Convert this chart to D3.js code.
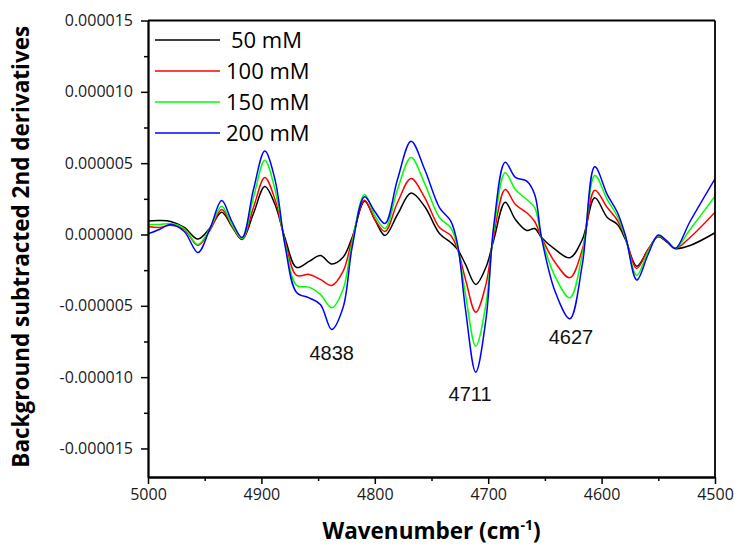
<!DOCTYPE html>
<html>
<head>
<meta charset="utf-8">
<script src="https://cdn.jsdelivr.net/npm/d3@7"></script>
<style>
  html, body { margin: 0; padding: 0; background: #fff; }
  svg { display: block; }
</style>
</head>
<body>
<svg id="chart" width="740" height="549"></svg>
<script>
// ---- Data (values in units of 1e-6) ----
const waves = [5000, 4990, 4980, 4968, 4956, 4945, 4935, 4926, 4917, 4907, 4897, 4888, 4879, 4869, 4858, 4848, 4838, 4828, 4820, 4809, 4800, 4791, 4780, 4768, 4756, 4743, 4733, 4727, 4720, 4711, 4702, 4695, 4685, 4676, 4666, 4659, 4653, 4641, 4628, 4617, 4606, 4595, 4586, 4579, 4569, 4559, 4550, 4542, 4535, 4522, 4500];

const s50  = [0.95, 0.98, 0.91, 0.49, -0.32, 0.49, 1.56, 0.56, -0.35, 1.47, 3.36, 2.1, -0.3, -2.31, -1.89, -1.47, -2.07, -1.6, -0.21, 2.33, 1.05, -0.07, 1.4, 2.9, 1.96, 0.07, -0.56, -1.05, -2.1, -3.5, -2.3, -0.35, 2.26, 1.05, 0.28, 0.42, -0.21, -1.05, -1.63, -0.35, 2.57, 1.19, 0.7, -0.35, -2.22, -1.05, -0.16, -0.56, -0.98, -0.77, 0.12];
const s100 = [0.56, 0.49, 0.65, 0.35, -0.77, 0.35, 1.75, 0.63, -0.32, 1.89, 4.0, 2.45, -0.5, -2.87, -2.8, -3.15, -3.57, -2.59, -0.35, 2.4, 1.05, 0.21, 2.24, 3.92, 2.59, 0.49, -0.07, -1.05, -3.15, -5.45, -3.5, 0.0, 3.15, 2.1, 1.52, 0.91, -0.21, -1.96, -3.03, -1.05, 3.1, 1.89, 0.98, -0.21, -2.38, -1.05, -0.14, -0.49, -0.98, -0.21, 1.56];
const s150 = [0.7, 0.7, 0.77, 0.42, -0.7, 0.49, 1.98, 0.7, -0.28, 2.59, 5.21, 3.15, -0.7, -3.57, -3.69, -4.2, -5.14, -3.85, -0.56, 2.8, 1.33, 0.42, 3.15, 5.4, 3.57, 1.19, 0.47, -0.91, -4.2, -7.83, -4.9, 0.35, 4.32, 3.15, 2.45, 1.89, -0.21, -2.95, -4.44, -1.4, 4.13, 2.45, 1.26, -0.21, -2.87, -1.19, -0.1, -0.49, -0.98, 0.35, 2.68];
const s200 = [0.04, 0.35, 0.7, 0.21, -1.26, 0.49, 2.38, 0.91, -0.21, 3.15, 5.85, 3.85, -0.85, -4.06, -4.44, -4.9, -6.66, -5.12, -0.91, 2.64, 1.61, 0.77, 3.85, 6.54, 4.55, 1.89, 0.93, -0.7, -5.26, -9.65, -5.96, 0.7, 5.07, 4.0, 3.74, 2.8, -0.21, -4.0, -5.91, -2.1, 4.74, 2.8, 1.54, -0.07, -3.19, -1.4, -0.04, -0.49, -0.98, 0.91, 3.9];

const seriesNames = ["50 mM", "100 mM", "150 mM", "200 mM"];
const seriesColors = ["#000000", "#ff0000", "#00ff00", "#0000ff"];
const seriesValues = [s50, s100, s150, s200];
const unit = 1e-6;

const xTicks = [5000, 4900, 4800, 4700, 4600, 4500];
const xMinorTicks = [4950, 4850, 4750, 4650, 4550];
const yTicks = [-0.000015, -0.00001, -0.000005, 0, 0.000005, 0.00001, 0.000015];
const yMinorTicks = [-0.0000125, -0.0000075, -0.0000025, 0.0000025, 0.0000075, 0.0000125];

const peakLabels = ["4838", "4711", "4627"];
const peakLabelWaves = [4838, 4716, 4627];
const peakLabelValues = [-0.0000084, -0.0000113, -0.0000073];

// ---- Layout ----
const L = 148, R = 715, T = 20.5, B = 477;
const svg = d3.select("#chart");

const x = d3.scaleLinear().domain([5000, 4500]).range([L, R]);
const y = d3.scaleLinear().domain([-0.000017, 0.000015]).range([B, T]);

const fmt = v => (v < 0 ? "-" : "") + Math.abs(v).toFixed(6);

// Curves
const line = d3.line()
  .x(d => x(d[0]))
  .y(d => y(d[1]))
  .curve(d3.curveCatmullRom.alpha(0.5));

svg.append("clipPath").attr("id", "clip")
  .append("rect").attr("x", L).attr("y", T).attr("width", R - L).attr("height", B - T);

const plot = svg.append("g").attr("clip-path", "url(#clip)");
seriesValues.forEach((vals, i) => {
  const pts = waves.map((w, j) => [w, vals[j] * unit]);
  plot.append("path")
    .attr("d", line(pts))
    .attr("fill", "none")
    .attr("stroke", seriesColors[i])
    .attr("stroke-width", 1.5)
    .attr("stroke-linejoin", "round");
});

// Axes
const tickFont = "'Open Sans', sans-serif";
const xAxis = svg.append("g").attr("transform", `translate(0,${B})`)
  .call(d3.axisBottom(x).tickValues(xTicks).tickSize(7).tickSizeOuter(0).tickPadding(5).tickFormat(d3.format("d")));
const xMinor = svg.append("g").attr("transform", `translate(0,${B})`)
  .call(d3.axisBottom(x).tickValues(xMinorTicks).tickSize(4).tickSizeOuter(0).tickFormat(""));
const yAxis = svg.append("g").attr("transform", `translate(${L},0)`)
  .call(d3.axisLeft(y).tickValues(yTicks).tickSize(7).tickSizeOuter(0).tickPadding(8).tickFormat(fmt));
const yMinor = svg.append("g").attr("transform", `translate(${L},0)`)
  .call(d3.axisLeft(y).tickValues(yMinorTicks).tickSize(4).tickSizeOuter(0).tickFormat(""));

[xAxis, xMinor, yAxis, yMinor].forEach(g => {
  g.select(".domain").attr("stroke", "#000").attr("stroke-width", 1.8);
  g.selectAll(".tick line").attr("stroke", "#000").attr("stroke-width", 1.5);
  g.selectAll(".tick text").attr("fill", "#1a1a1a").style("font-family", tickFont).style("font-size", "16px");
});

// Frame top and right
svg.append("line").attr("x1", L).attr("x2", R).attr("y1", T).attr("y2", T).attr("stroke", "#000").attr("stroke-width", 1.8);
svg.append("line").attr("x1", R).attr("x2", R).attr("y1", T).attr("y2", B).attr("stroke", "#000").attr("stroke-width", 1.8);

// Axis titles
svg.append("text")
  .attr("transform", `translate(29,${(T + B) / 2 - 2}) rotate(-90)`)
  .attr("text-anchor", "middle")
  .style("font-family", "'Open Sans', sans-serif")
  .style("font-weight", "bold")
  .style("font-size", "22.5px")
  .attr("fill", "#000")
  .text("Background subtracted 2nd derivatives");

const xt = svg.append("text")
  .attr("x", (L + R) / 2)
  .attr("y", 539)
  .attr("text-anchor", "middle")
  .style("font-family", "'Open Sans', sans-serif")
  .style("font-weight", "bold")
  .style("font-size", "22.5px")
  .attr("fill", "#000");
xt.append("tspan").text("Wavenumber (cm");
xt.append("tspan").attr("dy", -9).style("font-size", "14px").text("-1");
xt.append("tspan").attr("dy", 9).text(")");

// Legend
const legY = [40, 71, 102, 133];
const legTextX = [231, 226, 226, 226];
seriesNames.forEach((name, i) => {
  svg.append("line").attr("x1", 155).attr("x2", 220).attr("y1", legY[i]).attr("y2", legY[i])
    .attr("stroke", seriesColors[i]).attr("stroke-width", 1.5);
  svg.append("text").attr("x", legTextX[i]).attr("y", legY[i] + 7.5)
    .style("font-family", "'Open Sans', sans-serif").style("font-size", "22px")
    .attr("fill", "#000").text(name);
});

// Peak labels
peakLabels.forEach((t, i) => {
  svg.append("text")
    .attr("x", x(peakLabelWaves[i]))
    .attr("y", y(peakLabelValues[i]))
    .attr("text-anchor", "middle")
    .attr("dominant-baseline", "middle")
    .style("font-family", "'Liberation Sans', sans-serif")
    .style("font-size", "20px")
    .attr("fill", "#111")
    .text(t);
});
</script>
</body>
</html>
